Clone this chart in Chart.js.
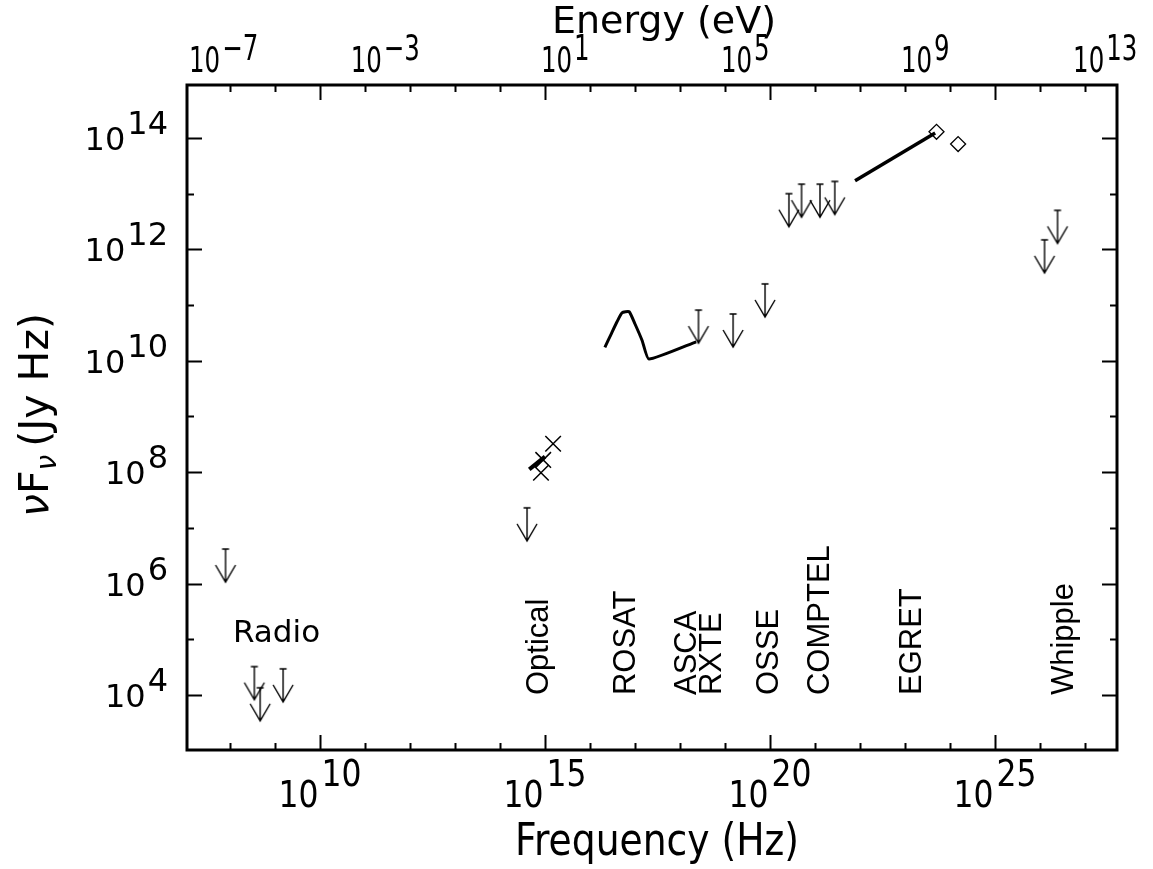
<!DOCTYPE html>
<html>
<head>
<meta charset="utf-8">
<script src="https://cdn.jsdelivr.net/npm/chart.js@4.4.1/dist/chart.umd.min.js"></script>
<style>
  html, body { margin: 0; padding: 0; background: #fff; }
  canvas { display: block; }
</style>
</head>
<body>
<canvas id="sed" width="1153" height="869"></canvas>
<script>
// all values are log10: frequency in Hz, nuFnu in Jy Hz
const limitNu   = [7.90, 8.54, 8.67, 9.18, 14.60, 18.41, 19.18, 19.89, 20.42, 20.70, 21.11, 21.44, 26.10, 26.39];
const limitFlux = [6.62, 4.51, 4.13, 4.47, 7.36, 10.91, 10.84, 11.38, 13.00, 13.17, 13.17, 13.22, 12.17, 12.70];

const opticalNu   = [15.18, 14.96, 14.91];
const opticalFlux = [8.51, 8.22, 7.99];
const opticalSlopeNu   = [14.65, 15.00];
const opticalSlopeFlux = [8.05, 8.28];

const rosatNu   = [16.33, 16.47, 16.60, 16.71, 16.87, 17.00, 17.16, 17.31, 18.36];
const rosatFlux = [10.24, 10.48, 10.70, 10.86, 10.88, 10.66, 10.36, 10.03, 10.34];

const egretNu   = [21.89, 23.67];
const egretFlux = [13.23, 14.09];

const diamondNu   = [23.70, 24.18];
const diamondFlux = [14.11, 13.89];

const bandNames = ["Optical", "ROSAT", "ASCA", "RXTE", "OSSE", "COMPTEL", "EGRET", "Whipple"];
const bandNu    = [14.82, 16.76, 18.11, 18.67, 19.93, 21.07, 23.11, 26.49];

const freqTicks   = [10, 15, 20, 25];
const fluxTicks   = [4, 6, 8, 10, 12, 14];
const energyTicks = ["-7", "-3", "1", "5", "9", "13"];
const H_EV = 4.1357e-15; // Planck constant, eV s

const pts = (xs, ys) => xs.map((v, i) => ({ x: Math.pow(10, v), y: Math.pow(10, ys[i]) }));

function arrowImage() {
  const c = document.createElement("canvas");
  c.width = 24; c.height = 80;
  const g = c.getContext("2d");
  g.strokeStyle = "#000";
  g.lineWidth = 1.4;
  g.beginPath();
  g.moveTo(8.5, 40); g.lineTo(15.5, 40);
  g.moveTo(12, 40); g.lineTo(12, 73);
  g.moveTo(2, 56); g.lineTo(12, 73); g.lineTo(22, 56);
  g.stroke();
  return c;
}

// text squeezed horizontally by sx
function squeezed(ctx, str, x, y, font, sx) {
  ctx.save();
  ctx.translate(x, y);
  ctx.scale(sx, 1);
  ctx.font = font;
  ctx.textAlign = "left";
  ctx.fillText(str, 0, 0);
  ctx.restore();
}

function supLabel(ctx, exp, x, y, o) {
  ctx.font = o.font;
  const wb = ctx.measureText("10").width * o.sx;
  const we = ctx.measureText(exp).width * o.sx;
  const total = wb + o.gap + we;
  let x0 = o.align === "right" ? x - total : x - total / 2;
  if (o.minLeft !== undefined) x0 = Math.max(x0, o.minLeft);
  squeezed(ctx, "10", x0, y, o.font, o.sx);
  squeezed(ctx, exp, x0 + wb + o.gap, y - o.rise, o.font, o.sx);
}

const frame = {
  id: "frame",
  afterDraw(chart) {
    const { ctx, chartArea: a, scales: { x, y } } = chart;
    ctx.save();
    ctx.strokeStyle = "#000";
    ctx.fillStyle = "#000";
    ctx.lineWidth = 2;
    ctx.beginPath();
    for (let e = 8; e <= 27; e++) {
      const px = Math.round(x.getPixelForValue(Math.pow(10, e))) + 0.5;
      const len = e % 5 === 0 ? 15 : 7;
      ctx.moveTo(px, a.bottom); ctx.lineTo(px, a.bottom - len);
      ctx.moveTo(px, a.top); ctx.lineTo(px, a.top + len);
    }
    for (let e = 4; e <= 14; e++) {
      const py = Math.round(y.getPixelForValue(Math.pow(10, e))) + 0.5;
      const len = e % 2 === 0 ? 15 : 7;
      ctx.moveTo(a.left, py); ctx.lineTo(a.left + len, py);
      ctx.moveTo(a.right, py); ctx.lineTo(a.right - len, py);
    }
    ctx.stroke();
    ctx.lineWidth = 3;
    ctx.strokeRect(a.left, a.top, a.right - a.left, a.bottom - a.top);

    ctx.textBaseline = "alphabetic";
    const dv = "'DejaVu Sans', sans-serif";
    freqTicks.forEach(e => {
      const px = x.getPixelForValue(Math.pow(10, e));
      supLabel(ctx, String(e), px, 807, { font: "37px " + dv, sx: 0.85, gap: 3, rise: 21 });
    });
    energyTicks.forEach(e => {
      const px = x.getPixelForValue(Math.pow(10, Number(e)) / H_EV);
      supLabel(ctx, e.replace("-", "\u2212"), px + 3, 72,
        { font: "36px " + dv, sx: 0.68, gap: 2, rise: 12, minLeft: 189 });
    });
    fluxTicks.forEach(e => {
      const py = y.getPixelForValue(Math.pow(10, e));
      supLabel(ctx, String(e), 168, py + 12, { font: "32px " + dv, sx: 1, gap: 2, rise: 16, align: "right" });
    });

    // axis titles
    ctx.font = "44px " + dv;
    const wf = ctx.measureText("Frequency (Hz)").width * 0.856;
    squeezed(ctx, "Frequency (Hz)", 657 - wf / 2, 855, "44px " + dv, 0.856);
    ctx.font = "38px " + dv;
    const we = ctx.measureText("Energy (eV)").width;
    squeezed(ctx, "Energy (eV)", 664 - we / 2, 33, "38px " + dv, 1);

    // y title: nuF_nu (Jy Hz)
    ctx.save();
    ctx.translate(48, 415);
    ctx.rotate(-Math.PI / 2);
    ctx.textAlign = "left";
    const f = "41px " + dv;
    const parts = [["\u03bd", "italic 41px " + dv, 0, 0], ["F", f, 0, 0],
                   ["\u03bd", "italic 28px " + dv, 8, 8], ["(Jy Hz)", f, 0, 0]];
    let w = 0;
    parts.forEach(p => { ctx.font = p[1]; w += ctx.measureText(p[0]).width + p[3]; });
    let cx = -w / 2;
    parts.forEach(p => {
      ctx.font = p[1];
      ctx.fillText(p[0], cx, p[2]);
      cx += ctx.measureText(p[0]).width + p[3];
    });
    ctx.restore();

    // band labels
    ctx.textAlign = "left";
    ctx.font = "31px " + dv;
    ctx.fillText("Radio", 233, 642);
    ctx.font = "31px 'Liberation Sans', Arial, sans-serif";
    const y0 = y.getPixelForValue(1e4);
    bandNames.forEach((name, i) => {
      const px = x.getPixelForValue(Math.pow(10, bandNu[i]));
      ctx.save();
      ctx.translate(px + 11, y0);
      ctx.rotate(-Math.PI / 2);
      ctx.fillText(name, 0, 0);
      ctx.restore();
    });
    ctx.restore();
  }
};

new Chart(document.getElementById("sed"), {
  type: "scatter",
  data: {
    datasets: [
      { data: pts(limitNu, limitFlux), pointStyle: arrowImage(), pointRadius: 10 },
      { data: pts(opticalNu, opticalFlux), pointStyle: "crossRot", pointRadius: 11,
        borderColor: "#000", borderWidth: 1.5 },
      { data: pts(diamondNu, diamondFlux), pointStyle: "rectRot", pointRadius: 7.5,
        borderColor: "#000", backgroundColor: "rgba(0,0,0,0)", borderWidth: 1.3 },
      { data: pts(opticalSlopeNu, opticalSlopeFlux), showLine: true, pointRadius: 0,
        borderColor: "#000", borderWidth: 4 },
      { data: pts(rosatNu, rosatFlux), showLine: true, pointRadius: 0, tension: 0.15,
        borderColor: "#000", borderWidth: 3 },
      { data: pts(egretNu, egretFlux), showLine: true, pointRadius: 0,
        borderColor: "#000", borderWidth: 3.5 }
    ]
  },
  options: {
    responsive: false,
    animation: false,
    layout: { padding: { left: 187, top: 85, right: 36, bottom: 119 } },
    plugins: { legend: { display: false }, tooltip: { enabled: false } },
    scales: {
      x: { type: "logarithmic", display: false, min: Math.pow(10, 7.044), max: Math.pow(10, 27.711) },
      y: { type: "logarithmic", display: false, min: Math.pow(10, 3.013), max: Math.pow(10, 14.95) }
    }
  },
  plugins: [frame]
});
</script>
</body>
</html>
